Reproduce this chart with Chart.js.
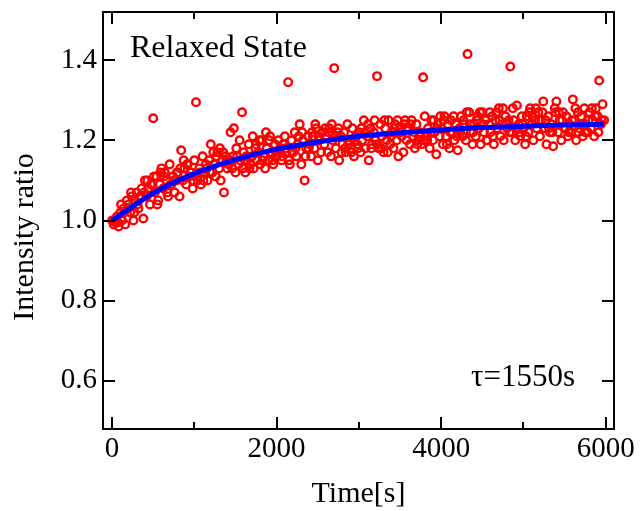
<!DOCTYPE html>
<html>
<head>
<meta charset="utf-8">
<script src="https://cdn.jsdelivr.net/npm/chart.js@4/dist/chart.umd.min.js"></script>
<style>
  html, body { margin: 0; padding: 0; background: #fff; }
  #chart { display: block; }
</style>
</head>
<body>
<canvas id="chart" width="640" height="511"></canvas>
<script>
// measurement times [s], first scan
const times = [
  0, 20, 40, 60, 80, 100, 120, 140, 160, 180,
  200, 220, 240, 260, 280, 300, 320, 340, 360, 380,
  400, 420, 440, 460, 480, 500, 520, 540, 560, 580,
  600, 620, 640, 660, 680, 700, 720, 740, 760, 780,
  800, 820, 840, 860, 880, 900, 920, 940, 960, 980,
  1000, 1020, 1040, 1060, 1080, 1100, 1120, 1140, 1160, 1180,
  1200, 1220, 1240, 1260, 1280, 1300, 1320, 1340, 1360, 1380,
  1400, 1420, 1440, 1460, 1480, 1500, 1520, 1540, 1560, 1580,
  1600, 1620, 1640, 1660, 1680, 1700, 1720, 1740, 1760, 1780,
  1800, 1820, 1840, 1860, 1880, 1900, 1920, 1940, 1960, 1980,
  2000, 2020, 2040, 2060, 2080, 2100, 2120, 2140, 2160, 2180,
  2200, 2220, 2240, 2260, 2280, 2300, 2320, 2340, 2360, 2380,
  2400, 2420, 2440, 2460, 2480, 2500, 2520, 2540, 2560, 2580,
  2600, 2620, 2640, 2660, 2680, 2700, 2720, 2740, 2760, 2780,
  2800, 2820, 2840, 2860, 2880, 2900, 2920, 2940, 2960, 2980,
  3000, 3020, 3040, 3060, 3080, 3100, 3120, 3140, 3160, 3180,
  3200, 3220, 3240, 3260, 3280, 3300, 3320, 3340, 3360, 3380,
  3400, 3420, 3440, 3460, 3480, 3500, 3520, 3540, 3560, 3580,
  3600, 3620, 3640, 3660, 3680, 3700, 3720, 3740, 3760, 3780,
  3800, 3820, 3840, 3860, 3880, 3900, 3920, 3940, 3960, 3980,
  4000, 4020, 4040, 4060, 4080, 4100, 4120, 4140, 4160, 4180,
  4200, 4220, 4240, 4260, 4280, 4300, 4320, 4340, 4360, 4380,
  4400, 4420, 4440, 4460, 4480, 4500, 4520, 4540, 4560, 4580,
  4600, 4620, 4640, 4660, 4680, 4700, 4720, 4740, 4760, 4780,
  4800, 4820, 4840, 4860, 4880, 4900, 4920, 4940, 4960, 4980,
  5000, 5020, 5040, 5060, 5080, 5100, 5120, 5140, 5160, 5180,
  5200, 5220, 5240, 5260, 5280, 5300, 5320, 5340, 5360, 5380,
  5400, 5420, 5440, 5460, 5480, 5500, 5520, 5540, 5560, 5580,
  5600, 5620, 5640, 5660, 5680, 5700, 5720, 5740, 5760, 5780,
  5800, 5820, 5840, 5860, 5880, 5900, 5920, 5940, 5960, 5980
];

// measured intensity ratio, first scan
const ratios = [
  1.00, 0.99, 0.995, 1.01, 0.985, 1.02, 1.00, 1.03, 0.99, 1.05,
  1.04, 1.02, 1.06, 1.00, 1.05, 1.07, 1.03, 1.06, 1.08, 1.005,
  1.10, 1.06, 1.08, 1.04, 1.09, 1.255, 1.07, 1.11, 1.05, 1.09,
  1.13, 1.08, 1.12, 1.10, 1.06, 1.14, 1.09, 1.11, 1.07, 1.10,
  1.12, 1.06, 1.175, 1.10, 1.13, 1.09, 1.14, 1.11, 1.12, 1.08,
  1.15, 1.295, 1.10, 1.13, 1.09, 1.16, 1.12, 1.14, 1.10, 1.15,
  1.19, 1.12, 1.14, 1.11, 1.17, 1.13, 1.10, 1.15, 1.07, 1.16,
  1.13, 1.14, 1.22, 1.13, 1.23, 1.12, 1.16, 1.14, 1.15, 1.27,
  1.17, 1.12, 1.15, 1.19, 1.14, 1.16, 1.13, 1.18, 1.15, 1.17,
  1.14, 1.20, 1.16, 1.13, 1.18, 1.15, 1.21, 1.17, 1.14, 1.19,
  1.16, 1.20, 1.18, 1.15, 1.19, 1.21, 1.17, 1.345, 1.14, 1.20,
  1.17, 1.22, 1.16, 1.19, 1.24, 1.14, 1.20, 1.10, 1.18, 1.21,
  1.19, 1.16, 1.21, 1.18, 1.23, 1.15, 1.20, 1.17, 1.22, 1.19,
  1.21, 1.17, 1.23, 1.16, 1.20, 1.38, 1.18, 1.22, 1.15, 1.21,
  1.19, 1.22, 1.17, 1.24, 1.20, 1.18, 1.23, 1.16, 1.21, 1.19,
  1.22, 1.17, 1.20, 1.25, 1.18, 1.21, 1.15, 1.23, 1.19, 1.22,
  1.20, 1.36, 1.18, 1.24, 1.21, 1.17, 1.23, 1.20, 1.25, 1.19,
  1.22, 1.18, 1.24, 1.20, 1.16, 1.23, 1.21, 1.17, 1.25, 1.20,
  1.23, 1.19, 1.25, 1.21, 1.18, 1.24, 1.20, 1.22, 1.19, 1.357,
  1.26, 1.21, 1.23, 1.18, 1.25, 1.20, 1.22, 1.165, 1.24, 1.21,
  1.23, 1.19, 1.26, 1.21, 1.24, 1.18, 1.25, 1.22, 1.20, 1.24,
  1.175, 1.23, 1.26, 1.21, 1.24, 1.20, 1.415, 1.27, 1.22, 1.19,
  1.24, 1.21, 1.26, 1.23, 1.19, 1.27, 1.22, 1.25, 1.20, 1.24,
  1.22, 1.26, 1.19, 1.25, 1.23, 1.28, 1.21, 1.24, 1.20, 1.26,
  1.23, 1.25, 1.384, 1.22, 1.25, 1.20, 1.287, 1.24, 1.21, 1.26,
  1.23, 1.19, 1.26, 1.22, 1.28, 1.24, 1.20, 1.25, 1.23, 1.27,
  1.21, 1.25, 1.297, 1.23, 1.19, 1.26, 1.22, 1.24, 1.185, 1.28,
  1.297, 1.22, 1.25, 1.20, 1.27, 1.23, 1.26, 1.21, 1.24, 1.22,
  1.302, 1.25, 1.20, 1.27, 1.23, 1.26, 1.21, 1.28, 1.24, 1.22,
  1.27, 1.23, 1.25, 1.21, 1.28, 1.26, 1.349, 1.24, 1.29, 1.25
];

// measurement times [s], interleaved second scan
const times2 = [
  30, 70, 110, 150, 190, 230, 270, 310, 350, 390,
  430, 470, 510, 550, 590, 630, 670, 710, 750, 790,
  830, 870, 910, 950, 990, 1030, 1070, 1110, 1150, 1190,
  1230, 1270, 1310, 1350, 1390, 1430, 1470, 1510, 1550, 1590,
  1630, 1670, 1710, 1750, 1790, 1830, 1870, 1910, 1950, 1990,
  2030, 2070, 2110, 2150, 2190, 2230, 2270, 2310, 2350, 2390,
  2430, 2470, 2510, 2550, 2590, 2630, 2670, 2710, 2750, 2790,
  2830, 2870, 2910, 2950, 2990, 3030, 3070, 3110, 3150, 3190,
  3230, 3270, 3310, 3350, 3390, 3430, 3470, 3510, 3550, 3590,
  3630, 3670, 3710, 3750, 3790, 3830, 3870, 3910, 3950, 3990,
  4030, 4070, 4110, 4150, 4190, 4230, 4270, 4310, 4350, 4390,
  4430, 4470, 4510, 4550, 4590, 4630, 4670, 4710, 4750, 4790,
  4830, 4870, 4910, 4950, 4990, 5030, 5070, 5110, 5150, 5190,
  5230, 5270, 5310, 5350, 5390, 5430, 5470, 5510, 5550, 5590,
  5630, 5670, 5710, 5750, 5790, 5830, 5870, 5910, 5950
];

// measured intensity ratio, second scan
const ratios2 = [
  1.00, 0.995, 1.04, 1.02, 1.03, 1.07, 1.02, 1.04, 1.06, 1.07,
  1.10, 1.09, 1.11, 1.04, 1.12, 1.11, 1.07, 1.09, 1.10, 1.12,
  1.13, 1.15, 1.14, 1.12, 1.10, 1.11, 1.12, 1.10, 1.13, 1.12,
  1.17, 1.16, 1.18, 1.17, 1.15, 1.15, 1.16, 1.18, 1.20, 1.13,
  1.16, 1.13, 1.21, 1.19, 1.20, 1.15, 1.22, 1.20, 1.15, 1.17,
  1.17, 1.16, 1.18, 1.15, 1.17, 1.18, 1.21, 1.22, 1.16, 1.18,
  1.22, 1.24, 1.21, 1.22, 1.23, 1.22, 1.24, 1.21, 1.23, 1.17,
  1.18, 1.19, 1.17, 1.20, 1.18, 1.23, 1.22, 1.24, 1.18, 1.25,
  1.19, 1.18, 1.25, 1.17, 1.21, 1.23, 1.25, 1.22, 1.24, 1.23,
  1.24, 1.22, 1.19, 1.21, 1.20, 1.20, 1.22, 1.25, 1.23, 1.26,
  1.25, 1.19, 1.22, 1.26, 1.21, 1.22, 1.25, 1.27, 1.24, 1.22,
  1.25, 1.27, 1.24, 1.20, 1.27, 1.21, 1.27, 1.25, 1.28, 1.24,
  1.22, 1.28, 1.23, 1.22, 1.24, 1.21, 1.27, 1.26, 1.28, 1.25,
  1.27, 1.25, 1.23, 1.22, 1.27, 1.27, 1.25, 1.23, 1.22, 1.25,
  1.28, 1.22, 1.24, 1.22, 1.25, 1.28, 1.26, 1.22, 1.25
];

// fitted curve (blue)
const fitTimes = [0, 500, 1000, 1500, 2000, 2500, 3000, 3500, 4000, 4500, 5000, 5500, 5980];
const fitRatios = [1.000, 1.068, 1.117, 1.152, 1.178, 1.196, 1.210, 1.219, 1.226, 1.232, 1.235, 1.238, 1.240];

const xMajorTicks = [0, 2000, 4000, 6000];
const xMinorTicks = [1000, 3000, 5000];
const yMajorTicks = [0.6, 0.8, 1.0, 1.2, 1.4];

const serif = '"Liberation Serif", "Times New Roman", serif';

const frame = {
  id: "frame",
  afterDatasetsDraw(chart) {
    const { ctx, chartArea: a, scales } = chart;
    const x = scales.x;
    const y = scales.y;

    ctx.save();
    ctx.strokeStyle = "#000";
    ctx.lineWidth = 2;
    ctx.lineCap = "butt";
    ctx.strokeRect(a.left, a.top, a.right - a.left, a.bottom - a.top);

    const seg = (x1, y1, x2, y2) => {
      ctx.beginPath();
      ctx.moveTo(x1, y1);
      ctx.lineTo(x2, y2);
      ctx.stroke();
    };

    xMajorTicks.forEach((v) => {
      const px = Math.round(x.getPixelForValue(v));
      seg(px, a.bottom, px, a.bottom - 12);
      seg(px, a.top, px, a.top + 12);
    });
    xMinorTicks.forEach((v) => {
      const px = Math.round(x.getPixelForValue(v));
      seg(px, a.bottom, px, a.bottom - 7);
      seg(px, a.top, px, a.top + 7);
    });
    yMajorTicks.forEach((v) => {
      const py = Math.round(y.getPixelForValue(v));
      seg(a.left, py, a.left + 12, py);
      seg(a.right, py, a.right - 12, py);
    });

    ctx.fillStyle = "#000";
    ctx.textBaseline = "alphabetic";

    ctx.font = "32px " + serif;
    ctx.textAlign = "left";
    ctx.fillText("Relaxed State", 130, 57);

    ctx.font = "31px " + serif;
    ctx.textAlign = "right";
    ctx.fillText("τ=1550s", 575, 386);

    ctx.font = "30px " + serif;
    ctx.textAlign = "center";
    ctx.fillText("Time[s]", (a.left + a.right) / 2, 502);

    ctx.translate(33, 237);
    ctx.rotate(-Math.PI / 2);
    ctx.fillText("Intensity ratio", 0, 0);
    ctx.restore();
  },
};

const points = times.map((t, i) => ({ x: t, y: ratios[i] }))
  .concat(times2.map((t, i) => ({ x: t, y: ratios2[i] })));

new Chart(document.getElementById("chart"), {
  type: "scatter",
  data: {
    datasets: [
      {
        type: "line",
        label: "fit",
        data: fitTimes.map((t, i) => ({ x: t, y: fitRatios[i] })),
        borderColor: "#0000ff",
        borderWidth: 5,
        pointRadius: 0,
        cubicInterpolationMode: "monotone",
        fill: false,
        order: 0,
      },
      {
        label: "data",
        data: points,
        borderColor: "#ff0000",
        backgroundColor: "rgba(0,0,0,0)",
        pointRadius: 3.8,
        pointBorderWidth: 2.4,
        order: 1,
      },
    ],
  },
  options: {
    responsive: false,
    animation: false,
    devicePixelRatio: 1,
    layout: { padding: { top: 12, right: 26, left: 0, bottom: 0 } },
    plugins: {
      legend: { display: false },
      tooltip: { enabled: false },
    },
    scales: {
      x: {
        type: "linear",
        min: -110,
        max: 6100,
        border: { display: false },
        grid: { display: false, drawTicks: false },
        afterBuildTicks: (s) => {
          s.ticks = xMajorTicks.map((v) => ({ value: v }));
        },
        afterFit: (s) => {
          s.height = 82;
          s.paddingLeft = 0;
          s.paddingRight = 0;
        },
        ticks: {
          padding: 6,
          color: "#000",
          maxRotation: 0,
          font: { family: serif, size: 29, lineHeight: 1 },
          callback: (v) => String(v),
        },
      },
      y: {
        type: "linear",
        min: 0.48,
        max: 1.52,
        border: { display: false },
        grid: { display: false, drawTicks: false },
        afterBuildTicks: (s) => {
          s.ticks = yMajorTicks.map((v) => ({ value: v }));
        },
        afterFit: (s) => {
          s.width = 103;
          s.paddingTop = 0;
          s.paddingBottom = 0;
        },
        ticks: {
          padding: 6,
          color: "#000",
          font: { family: serif, size: 29, lineHeight: 1 },
          callback: (v) => Number(v).toFixed(1),
        },
      },
    },
  },
  plugins: [frame],
});
</script>
</body>
</html>
